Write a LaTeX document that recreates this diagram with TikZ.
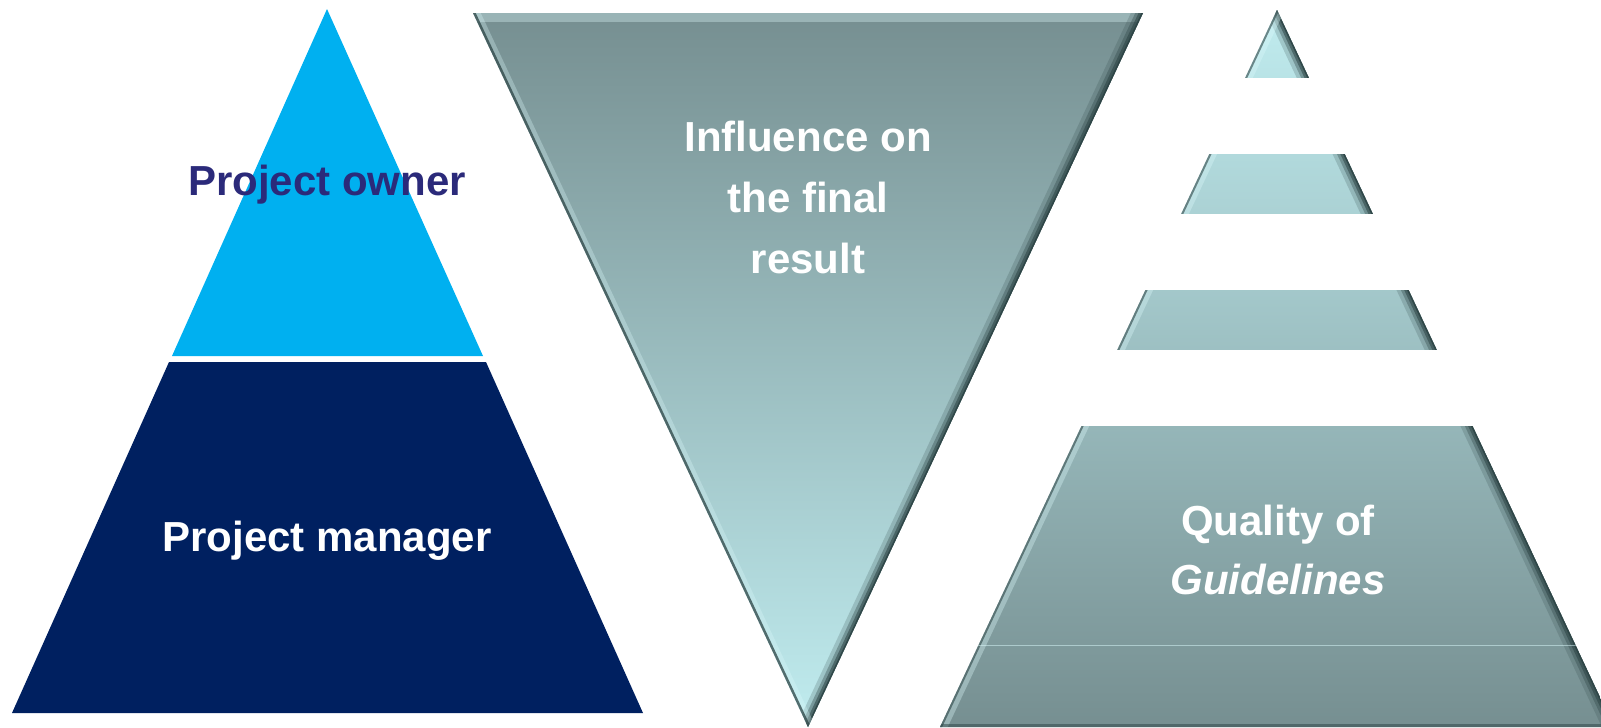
\documentclass[tikz,border=0pt]{standalone}
\usepackage{fontspec}
\setmainfont{Liberation Sans}
\usepackage{xcolor}

\definecolor{ownerblue}{HTML}{00B0F0}
\definecolor{managerblue}{HTML}{002060}
\definecolor{ownertext}{HTML}{2B2A7A}
\definecolor{tealdark}{HTML}{768F91}
\definecolor{teallight}{HTML}{C0ECEF}
\definecolor{bevelshadow}{HTML}{2C4344}
\definecolor{bevellight}{HTML}{DDFAFC}

\tikzset{
  labeltext/.style={font=\bfseries\fontsize{42}{61}\selectfont, inner sep=0pt, align=center},
  shadowedge/.style={draw=bevelshadow, line cap=round},
  lightedge/.style={draw=bevellight, line cap=round}
}

\begin{document}
\begin{tikzpicture}[x=1pt,y=-1pt]
\useasboundingbox (0,0) rectangle (1601,728);

% left pyramid
\fill[ownerblue] (327,9) -- (483,356) -- (172,356) -- cycle;
\fill[managerblue] (169,362) -- (486,362) -- (643,713) -- (12,713) -- cycle;
\node[labeltext, text=ownertext] (owner) at (327,185) {Project owner};
\node[labeltext, text=white] (manager) at (327,541) {Project manager};

% middle triangle
\coordinate (midleft) at (473,13);
\coordinate (midright) at (1143,13);
\coordinate (midtip) at (808,727);
\shade[top color=tealdark, bottom color=teallight] (midleft) -- (midright) -- (midtip) -- cycle;
\begin{scope}
  \clip (midleft) -- (midright) -- (midtip) -- cycle;
  \draw[lightedge, line width=18pt, opacity=.35] (midleft) -- (midright);
  \foreach \w/\o in {22/.2,14/.35,8/.55,3/.85}
    \draw[shadowedge, line width=\w pt, opacity=\o] (midright) -- (midtip);
  \draw[lightedge, line width=14pt, opacity=.3] (midleft) -- (midtip);
  \draw[shadowedge, line width=5pt, opacity=.75] (midleft) -- (midtip);
\end{scope}
\node[labeltext, text=white] (influence) at (808,197) {Influence on\\the final\\result};

% right pyramid, cut in bands
\coordinate (rightapex) at (1277,10);
\coordinate (rightleft) at (940,727);
\coordinate (rightright) at (1614,727);
\foreach \top/\bot in {10/77,154/213,290/349,426/727}{
  \begin{scope}
    \clip (rightapex) -- (rightright) -- (rightleft) -- cycle;
    \clip (900,\top) rectangle (1650,\bot);
    \shade[top color=teallight, bottom color=tealdark] (rightapex) -- (rightright) -- (rightleft) -- cycle;
    \foreach \w/\o in {22/.2,14/.35,8/.55,3/.85}
      \draw[shadowedge, line width=\w pt, opacity=\o] (rightapex) -- (rightright);
    \draw[lightedge, line width=14pt, opacity=.35] (rightapex) -- (rightleft);
    \draw[shadowedge, line width=4pt, opacity=.6] (rightapex) -- (rightleft);
  \end{scope}
}
\begin{scope}
  \clip (rightapex) -- (rightright) -- (rightleft) -- cycle;
  \draw[bevellight, line width=1pt, opacity=.5] (900,645) -- (1650,645);
  \draw[shadowedge, line width=6pt, opacity=.5] (900,727) -- (1650,727);
\end{scope}
\node[labeltext, text=white, font=\bfseries\fontsize{42}{59}\selectfont] (quality) at (1278,550) {Quality of\\\textit{Guidelines}};

\end{tikzpicture}
\end{document}
